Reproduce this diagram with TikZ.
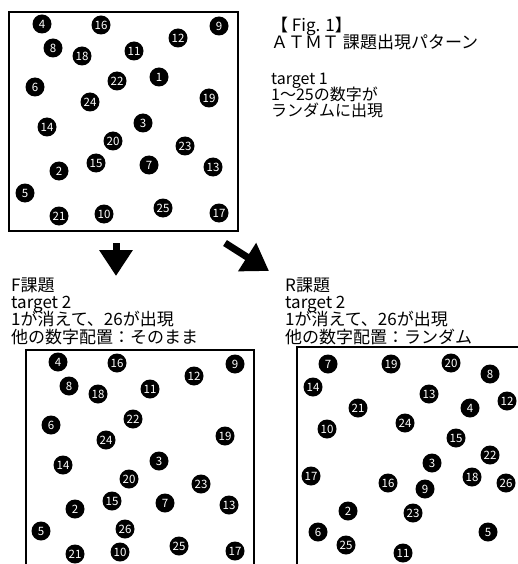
\documentclass[tikz,border=0pt]{standalone}
\usepackage{fontspec}
\setmainfont{Noto Sans CJK JP}
\usetikzlibrary{arrows.meta}
\begin{document}
\begin{tikzpicture}[x=1pt,y=-1pt,
  num/.style={circle,fill=black,inner sep=0pt,minimum size=19pt,text=white,font=\fontsize{11.5}{11.5}\selectfont},
  frame/.style={draw=black,line width=1.3pt},
  txtline/.style={anchor=base west,inner sep=0pt,font=\fontsize{17}{17}\selectfont},
  smallline/.style={anchor=base west,inner sep=0pt,font=\fontsize{16}{16}\selectfont},
  bigarrow/.style={line width=7pt,-{Triangle[width=32pt,length=26pt]}}]
\fill[white] (0,0) rectangle (518,564);
\useasboundingbox (0,0) rectangle (518,564);
% top box
\draw[frame] (9,12) rectangle (238,231);
\foreach \n/\x/\y in {4/42/24,16/101/25,9/219/26,12/178/38,8/53/48,18/82/56,11/134/51,1/159/77,22/117/81,6/35/87,19/209/98,24/90/102,3/143/123,14/47/127,20/113/141,23/185/146,15/96/163,7/149/165,13/213/167,2/59/171,5/25/193,25/163/208,21/59/216,10/104/214,17/219/213}
  \node[num] (t\n) at (\x,\y) {\n};
% top text
\node[txtline] (fig)   at (271,32)  {【 Fig. 1】};
\node[txtline] (atmt)  at (271,49)  {ＡＴＭＴ 課題出現パターン};
\node[smallline] (tg1)   at (271,85)  {target 1};
\node[smallline] (nums)  at (271,101) {1～25の数字が};
\node[smallline] (rand)  at (271,117) {ランダムに出現};
% arrows
\coordinate (d1) at (116,243);
\coordinate (d2) at (116,276);
\draw[bigarrow] (d1) -- (d2);
\coordinate (r1) at (225,243);
\coordinate (r2) at (269,271);
\draw[bigarrow] (r1) -- (r2);
% bottom-left text
\node[txtline] (fa) at (11,291.5) {F課題};
\node[txtline] (fb) at (11,308.5) {target 2};
\node[txtline] (fc) at (11,325.5) {1が消えて、26が出現};
\node[txtline] (fd) at (11,343.5) {他の数字配置：そのまま};
% bottom-right text
\node[txtline] (ra) at (285,291.5) {R課題};
\node[txtline] (rb) at (285,308.5) {target 2};
\node[txtline] (rc) at (285,325.5) {1が消えて、26が出現};
\node[txtline] (rd) at (285,343.5) {他の数字配置：ランダム};
% bottom-left box
\draw[frame] (26,566) -- (26,350) -- (254,350) -- (254,566);
\begin{scope}[shift={(16,338)}]
\foreach \n/\x/\y in {4/42/24,16/101/25,9/219/26,12/178/38,8/53/48,18/82/56,11/134/51,22/117/81,6/35/87,19/209/98,24/90/102,3/143/123,14/47/127,20/113/141,23/185/146,15/96/163,7/149/165,13/213/167,2/59/171,26/109/191,5/25/193,25/163/208,21/59/216,10/104/214,17/219/213}
  \node[num] (f\n) at (\x,\y) {\n};
\end{scope}
% bottom-right box
\draw[frame] (297,566) -- (297,347) -- (520,347);
\foreach \n/\x/\y in {7/328/364,19/391/364,20/451/363,8/490/374,14/313/387,13/429/394,12/507/401,21/358/408,4/470/408,24/405/423,10/327/429,15/456/438,22/490/455,3/432/463,17/311/476,18/472/477,26/506/483,16/388/483,9/425/489,2/348/511,23/413/513,6/318/532,5/488/532,25/346/545,11/403/553}
  \node[num] (r\n) at (\x,\y) {\n};
\end{tikzpicture}
\end{document}
